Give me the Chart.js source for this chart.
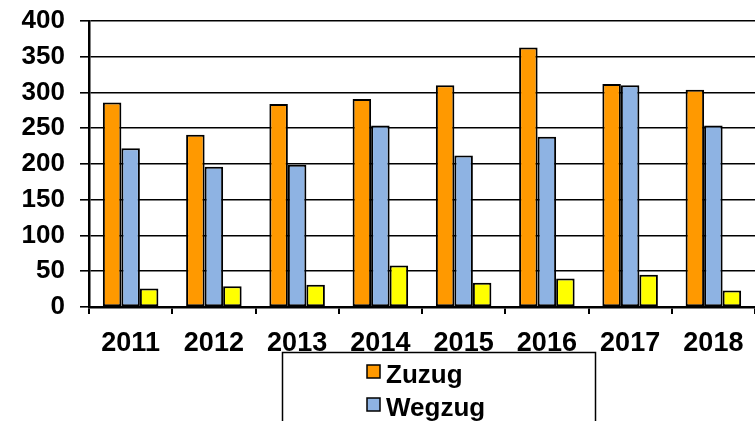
<!DOCTYPE html>
<html>
<head>
<meta charset="utf-8">
<script src="https://cdn.jsdelivr.net/npm/chart.js@4/dist/chart.umd.min.js"></script>
<style>
  body { margin: 0; background: #fff; }
  #wrap { width: 755px; height: 421px; position: relative; }
</style>
</head>
<body>
<div id="wrap"><canvas id="barChart"></canvas></div>
<script>
// Daten
const jahre = ['2011', '2012', '2013', '2014', '2015', '2016', '2017', '2018'];
const zuzug = [286, 241, 284, 291, 310, 363, 312, 304];
const wegzug = [222, 196, 199, 254, 212, 238, 310, 254];
const dritte = [26, 29, 31, 58, 34, 40, 45, 23];
const yTicks = [0, 50, 100, 150, 200, 250, 300, 350, 400];

const fontFamily = 'Arial, "Liberation Sans", sans-serif';

// legend box, cut off at the bottom like the original
const boxLegend = {
    id: 'boxLegend',
    afterDraw(chart) {
        const c = chart.ctx;
        c.save();
        c.strokeStyle = '#000';
        c.lineWidth = 1.5;
        c.strokeRect(282.5, 352.5, 313, 120);
        c.font = 'bold 26px ' + fontFamily;
        c.textBaseline = 'alphabetic';
        chart.data.datasets.forEach((ds, i) => {
            const y = 365 + i * 33;
            c.fillStyle = ds.backgroundColor;
            c.fillRect(367, y, 13, 13);
            c.lineWidth = 1.5;
            c.strokeRect(367, y, 13, 13);
            c.fillStyle = '#000';
            c.fillText(ds.label, 386, y + 18);
        });
        c.restore();
    }
};

new Chart(document.getElementById('barChart'), {
    type: 'bar',
    data: {
        labels: jahre,
        datasets: [
            { label: 'Zuzug', data: zuzug, backgroundColor: '#FF9900' },
            { label: 'Wegzug', data: wegzug, backgroundColor: '#8EB3E3' },
            { label: 'Umzug', data: dritte, backgroundColor: '#FFFF00' }
        ].map(d => Object.assign(d, {
            borderColor: '#000',
            borderWidth: 2,
            borderSkipped: false,
            barPercentage: 1,
            categoryPercentage: 0.667
        }))
    },
    options: {
        responsive: true,
        maintainAspectRatio: false,
        animation: false,
        layout: { padding: { top: 21, right: 0, left: 0, bottom: 0 } },
        plugins: {
            legend: { display: false },
            tooltip: { enabled: false }
        },
        scales: {
            x: {
                grid: { drawOnChartArea: false, color: '#000', lineWidth: 2, tickLength: 7, offset: true },
                border: { color: '#000', width: 2.5 },
                ticks: { color: '#000', font: { family: fontFamily, size: 27, weight: 'bold' }, padding: 13, maxRotation: 0 },
                afterFit: s => { s.height = 114; s.paddingLeft = 0; s.paddingRight = 0; }
            },
            y: {
                min: 0,
                max: 400,
                afterBuildTicks: s => { s.ticks = yTicks.map(v => ({ value: v })); },
                grid: { color: '#000', lineWidth: 1.6, tickLength: 9 },
                border: { color: '#000', width: 2.5 },
                ticks: { color: '#000', font: { family: fontFamily, size: 26, weight: 'bold' }, padding: 15 },
                afterFit: s => { s.width = 89; s.paddingTop = 0; s.paddingBottom = 0; }
            }
        }
    },
    plugins: [boxLegend]
});
</script>
</body>
</html>
